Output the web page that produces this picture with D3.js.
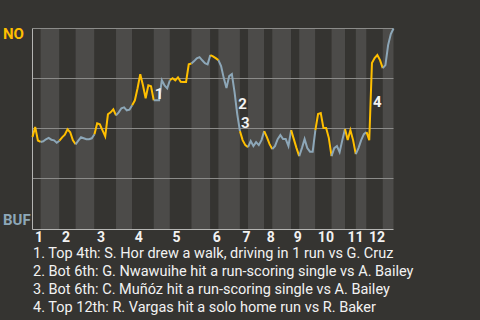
<!DOCTYPE html>
<html>
<head>
<meta charset="utf-8">
<script src="https://cdn.jsdelivr.net/npm/d3@7"></script>
<style>
  html, body { margin: 0; padding: 0; background: #353431; }
  svg { display: block; font-family: Roboto, "Noto Sans", sans-serif; }
</style>
</head>
<body>
<svg id="chart" width="480" height="320"></svg>
<script>
// Plays per half-inning (top, bottom, top, bottom, ...)
const halfInningPlays = [3, 7, 6, 7, 8, 6, 8, 6, 8, 7, 3, 8, 3, 6, 3, 7, 3, 6, 6, 5, 4, 4, 6, 4];
const inningLabels = ["1", "2", "3", "4", "5", "6", "7", "8", "9", "10", "11", "12"];

// New Orleans win probability (%) after each play, starting from first pitch
const winProbNO = [
  45.8, 50.8, 44.0, 43.3,
  43.6, 44.6, 45.3, 44.4, 44.1, 42.9, 43.9,
  45.6, 46.9, 49.6, 48.1, 44.1, 42.1,
  43.9, 45.6, 45.1, 44.6, 44.6, 45.1, 47.1,
  52.6, 52.1, 49.1, 46.1, 57.1, 58.1, 59.6, 56.6,
  58.1, 60.1, 60.6, 59.1, 59.4, 61.6,
  64.1, 70.1, 77.1, 71.6, 65.1, 71.6, 71.1, 64.1,
  64.1, 64.1, 74.1, 71.6, 70.1, 74.1,
  75.1, 74.1, 75.6, 73.4, 73.3, 73.3, 82.1, 82.5,
  83.7, 85.1, 85.7, 84.1, 82.7, 82.1, 86.7,
  86.1, 85.2, 84.2,
  81.2, 75.2, 70.2, 76.2, 77.2, 68.2, 57.2, 48.7,
  44.2, 41.7, 40.7,
  43.7, 41.2, 43.2, 41.7, 44.2, 48.7,
  45.7, 42.2, 39.7,
  41.2, 44.7, 46.7, 44.7, 44.7, 41.2, 49.2,
  44.7, 40.2, 36.2,
  40.2, 44.7, 40.2, 38.4, 38.4, 49.2,
  57.2, 57.7, 50.2, 50.2, 45.2, 36.2,
  40.2, 41.2, 38.2, 44.2, 49.7,
  44.2, 49.2, 44.2, 37.2,
  40.2, 44.2, 47.2, 48.2,
  44.2, 82.7, 85.2, 86.7, 84.2, 80.2,
  81.7, 91.7, 97.2, 100
];

// Key plays: index of the play and its caption
const keyPlayIndex = [45, 76, 77, 126];
const keyPlayNotes = [
  "Top 4th: S. Hor drew a walk, driving in 1 run vs G. Cruz",
  "Bot 6th: G. Nwawuihe hit a run-scoring single vs A. Bailey",
  "Bot 6th: C. Muñóz hit a run-scoring single vs A. Bailey",
  "Top 12th: R. Vargas hit a solo home run vs R. Baker"
];

const teamTop = "NO";
const teamBottom = "BUF";
const gridValues = [25, 50, 75];

const colors = {
  bg: "#353431",
  bandTop: "#353431",
  bandBottom: "#4c4b49",
  grid: "#8b8b89",
  axis: "#b4b4b2",
  away: "#ffbf00",
  home: "#8da7b8",
  text: "#f2f2f2"
};

const svg = d3.select("#chart");
const plotLeft = 32.5, plotRight = 393.5, plotTop = 28.5, plotBottom = 228.5;

// half-inning boundaries in play units
const bounds = [0];
halfInningPlays.forEach(n => bounds.push(bounds[bounds.length - 1] + n));
const totalPlays = bounds[bounds.length - 1];

const x = d3.scaleLinear().domain([0, totalPlays]).range([plotLeft, plotRight]);
const y = d3.scaleLinear().domain([0, 100]).range([plotBottom, plotTop]);

svg.append("rect").attr("width", 480).attr("height", 320).attr("fill", colors.bg);

// alternating half-inning bands
svg.append("g").selectAll("rect")
  .data(halfInningPlays.map((n, i) => ({ i, s: bounds[i], e: bounds[i + 1] })))
  .join("rect")
  .attr("x", d => x(d.s))
  .attr("y", plotTop)
  .attr("width", d => x(d.e) - x(d.s))
  .attr("height", plotBottom - plotTop + 1)
  .attr("fill", d => d.i % 2 === 0 ? colors.bandTop : colors.bandBottom);

// horizontal grid
svg.append("g").selectAll("line")
  .data(gridValues.concat([100]))
  .join("line")
  .attr("x1", plotLeft).attr("x2", plotRight)
  .attr("y1", d => y(d)).attr("y2", d => y(d))
  .attr("stroke", colors.grid).attr("stroke-width", 1);

// axes frame (left and bottom)
svg.append("line").attr("x1", plotLeft).attr("x2", plotLeft).attr("y1", plotTop).attr("y2", plotBottom + 1)
  .attr("stroke", colors.axis);
svg.append("line").attr("x1", plotLeft).attr("x2", plotRight).attr("y1", plotBottom + 1).attr("y2", plotBottom + 1)
  .attr("stroke", colors.axis);

// inning numbers at the start of each inning
const xAxis = d3.axisBottom(x)
  .tickValues(inningLabels.map((_, i) => bounds[i * 2]))
  .tickFormat((d, i) => inningLabels[i])
  .tickSize(0);
const gx = svg.append("g").attr("transform", `translate(0,${plotBottom + 1})`).call(xAxis);
gx.select(".domain").remove();
gx.selectAll("text")
  .attr("text-anchor", "start")
  .attr("dx", 2)
  .attr("y", 0)
  .attr("dy", 12.5)
  .attr("fill", colors.text)
  .style("font-family", "Roboto, sans-serif")
  .style("font-size", "14px")
  .style("font-weight", "bold");

// team labels
svg.append("text").attr("x", 3).attr("y", y(100) + 10.5)
  .attr("fill", colors.away).attr("font-size", 15).attr("font-weight", "bold").text(teamTop);
svg.append("text").attr("x", 3).attr("y", y(0) - 3.5)
  .attr("fill", colors.home).attr("font-size", 15).attr("font-weight", "bold").text(teamBottom);

// win probability line, coloured by batting team
const line = d3.line().x(d => x(d.i)).y(d => y(d.v));
svg.append("g").selectAll("path")
  .data(halfInningPlays.map((n, h) => ({
    h,
    pts: d3.range(bounds[h], bounds[h + 1] + 1).map(i => ({ i, v: winProbNO[i] }))
  })))
  .join("path")
  .attr("d", d => line(d.pts))
  .attr("fill", "none")
  .attr("stroke", d => d.h % 2 === 0 ? colors.away : colors.home)
  .attr("stroke-width", 2);

// key play markers
svg.append("g").selectAll("text")
  .data(keyPlayIndex)
  .join("text")
  .attr("x", d => x(d) + 1)
  .attr("y", d => y((winProbNO[d - 1] + winProbNO[d]) / 2))
  .attr("dy", "0.36em")
  .attr("fill", colors.text)
  .attr("font-size", 15)
  .attr("font-weight", "bold")
  .text((d, i) => i + 1);

// captions
svg.append("g").selectAll("text")
  .data(keyPlayNotes)
  .join("text")
  .attr("x", 33)
  .attr("y", (d, i) => 258 + i * 18)
  .attr("fill", colors.text)
  .attr("font-size", 14.5)
  .text((d, i) => `${i + 1}. ${d}`);
</script>
</body>
</html>
